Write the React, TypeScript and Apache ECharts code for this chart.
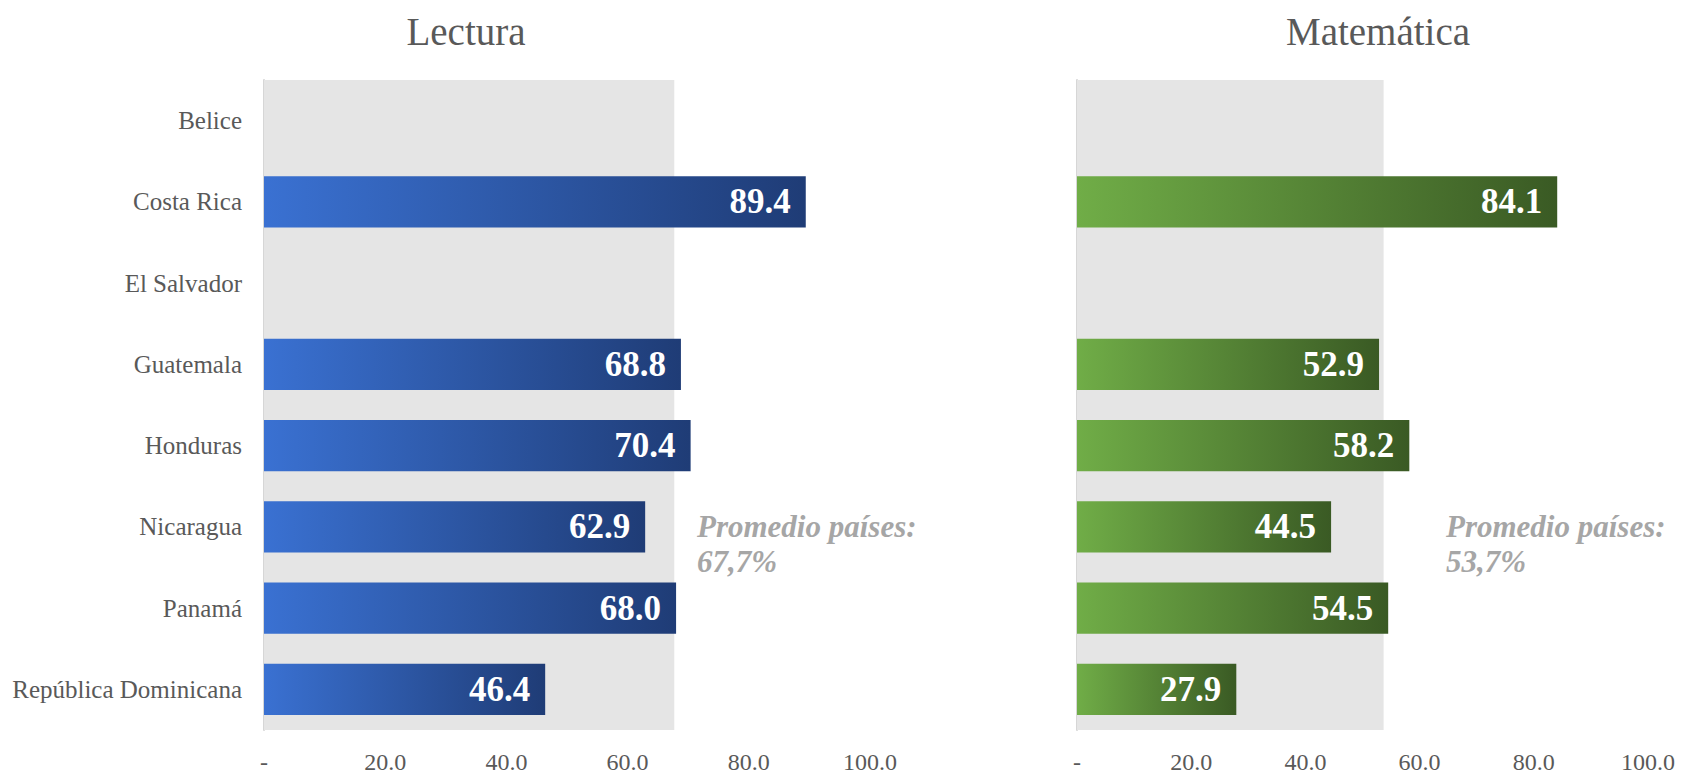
import React, { useEffect, useRef } from "react";
import * as echarts from "echarts";

const categories = [
  "Belice",
  "Costa Rica",
  "El Salvador",
  "Guatemala",
  "Honduras",
  "Nicaragua",
  "Panamá",
  "República Dominicana",
];
const lecturaValues: (number | null)[] = [null, 89.4, null, 68.8, 70.4, 62.9, 68.0, 46.4];
const matematicaValues: (number | null)[] = [null, 84.1, null, 52.9, 58.2, 44.5, 54.5, 27.9];
const panelTitles = ["Lectura", "Matemática"];
const averages = [67.7, 53.7];
const averageLabel = "Promedio países:";
const xTicks = { min: 0, max: 100, interval: 20 };

const FONT = "'Liberation Serif', 'Times New Roman', serif";

export default function App() {
  const ref = useRef<HTMLDivElement>(null);
  useEffect(() => {
    if (!ref.current) return;
    const chart = echarts.init(ref.current, null, { renderer: "svg" });
    const grids = [
      { left: 264, top: 80, width: 606, height: 652 },
      { left: 1077, top: 80, width: 571, height: 652 },
    ];
    const gradients = [
      ["#3A71D2", "#1F3C76"],
      ["#70AD47", "#3A5A24"],
    ];
    const seriesData = [lecturaValues, matematicaValues];
    const titleCenters = [461, 1373];
    const notePos = [697, 1446];

    const xAxis = grids.map((_, i) => ({
      type: "value",
      gridIndex: i,
      min: xTicks.min,
      max: xTicks.max,
      interval: xTicks.interval,
      splitLine: { show: false },
      axisLine: { show: false },
      axisTick: { show: false },
      axisLabel: {
        margin: 20,
        fontFamily: FONT,
        fontSize: 24,
        color: "#595959",
        formatter: (v: number) => (v === 0 ? "-" : v.toFixed(1)),
      },
    }));
    const yAxis = grids.map((_, i) => ({
      type: "category",
      gridIndex: i,
      data: categories,
      inverse: true,
      axisLine: { show: true, lineStyle: { color: "#D6D6D6", width: 2 } },
      axisTick: { show: false },
      axisLabel: {
        show: i === 0,
        margin: 22,
        fontFamily: FONT,
        fontSize: 25,
        color: "#595959",
      },
    }));
    const series = seriesData.map((data, i) => ({
      type: "bar",
      xAxisIndex: i,
      yAxisIndex: i,
      data,
      barWidth: "63%",
      itemStyle: {
        color: new echarts.graphic.LinearGradient(0, 0, 1, 0, [
          { offset: 0, color: gradients[i][0] },
          { offset: 1, color: gradients[i][1] },
        ]),
      },
      label: {
        show: true,
        position: "insideRight",
        distance: 15,
        fontFamily: FONT,
        fontWeight: "bold",
        fontSize: 35,
        color: "#FFFFFF",
        formatter: (p: any) => (p.value == null ? "" : Number(p.value).toFixed(1)),
      },
      markArea: {
        silent: true,
        itemStyle: { color: "#E5E5E5" },
        data: [[{ xAxis: 0 }, { xAxis: averages[i] }]],
      },
      z: 3,
    }));

    chart.setOption({
      animation: false,
      backgroundColor: "#FFFFFF",
      title: panelTitles.map((t, i) => ({
        text: t,
        left: titleCenters[i],
        top: 7,
        textAlign: "center",
        textStyle: {
          fontFamily: FONT,
          fontSize: 39,
          fontWeight: "normal",
          color: "#595959",
        },
      })),
      grid: grids.map((g) => ({ ...g, containLabel: false })),
      xAxis,
      yAxis,
      series,
      graphic: averages.map((a, i) => ({
        type: "text",
        left: notePos[i],
        top: 509,
        style: {
          text: `${averageLabel}\n${a.toFixed(1).replace(".", ",")}%`,
          fontFamily: FONT,
          fontSize: 31,
          fontWeight: "bold",
          fontStyle: "italic",
          lineHeight: 35,
          fill: "#A6A6A6",
        },
      })),
    });
    return () => chart.dispose();
  }, []);
  return (
    <div
      ref={ref}
      style={{ position: "fixed", left: 0, top: 0, width: 1681, height: 774 }}
    />
  );
}
